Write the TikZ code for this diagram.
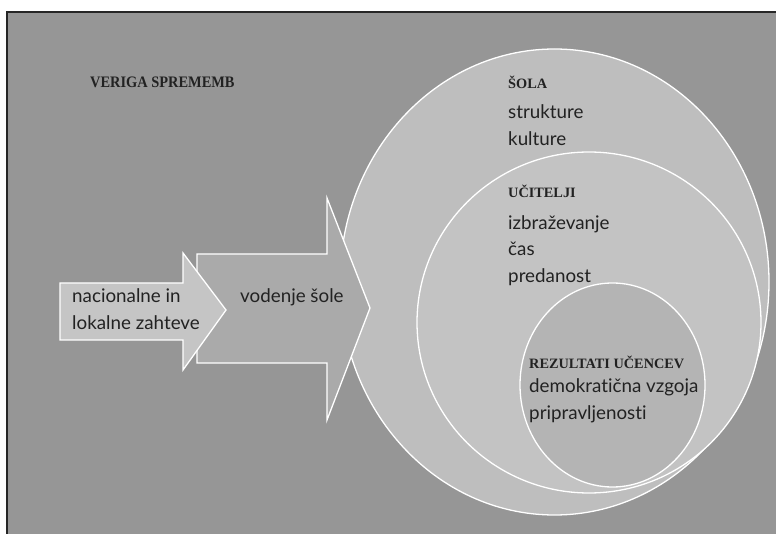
\documentclass[tikz,border=0pt]{standalone}
\usepackage{fontspec}
\setmainfont{Lato}[Ligatures=NoCommon]
\newfontfamily\capsfont{Liberation Serif}
\newfontfamily\titlecapsfont{Liberation Serif}[FakeStretch=0.9]
\usetikzlibrary{shapes.geometric}
\definecolor{bggray}{HTML}{969696}
\definecolor{outerfill}{HTML}{BEBEBE}
\definecolor{midfill}{HTML}{C3C3C3}
\definecolor{innerfill}{HTML}{B4B4B4}
\definecolor{arrowlight}{HTML}{C5C5C5}
\definecolor{arrowdark}{HTML}{AAAAAA}
\definecolor{inkdark}{HTML}{222222}
\tikzset{
  ring/.style={ellipse, draw=white, line width=1.3pt, inner sep=0pt, outer sep=0pt},
  blockarrow/.style={draw=white, line width=1.3pt, line join=miter},
  head/.style={font=\capsfont\bfseries\fontsize{14.3}{16}\selectfont, text=inkdark, anchor=base west, inner sep=0pt},
  title/.style={font=\titlecapsfont\bfseries\fontsize{16}{18}\selectfont, text=inkdark, anchor=base west, inner sep=0pt},
  item/.style={font=\fontsize{18.8}{22}\selectfont, text=inkdark, anchor=base west, inner sep=0pt},
}
\begin{document}
\begin{tikzpicture}[x=1pt, y=-1pt]
\useasboundingbox (0,0) rectangle (776,534);
% background panel
\fill[bggray] (7,12) rectangle (776,534);
\draw[line width=1.3pt, black!85] (7,534) -- (7,12) -- (776,12);
% nested ellipses
\node[ring, fill=outerfill, minimum width=429pt, minimum height=466pt] (sola) at (554.5,282) {};
\node[ring, fill=midfill, minimum width=344pt, minimum height=341pt] (ucitelji) at (589,322.5) {};
\node[ring, fill=innerfill, minimum width=185pt, minimum height=204pt] (rezultati) at (612.5,385) {};
% block arrows
\filldraw[blockarrow, fill=arrowdark] (197,254) -- (327,254) -- (327,198) -- (370,308) -- (327,420) -- (327,363) -- (197,363) -- cycle;
\filldraw[blockarrow, fill=arrowlight] (60,283) -- (183,283) -- (183,253) -- (226,310) -- (183,370) -- (183,340) -- (60,340) -- cycle;
% texts
\node[title] (t0) at (90,88) {VERIGA SPREMEMB};
\node[head] (t1) at (508,89) {ŠOLA};
\node[item] (t2) at (508,119) {strukture};
\node[item] (t3) at (508,146) {kulture};
\node[head] (t4) at (508,198) {UČITELJI};
\node[item] (t5) at (508,230) {izbraževanje};
\node[item] (t6) at (508,256) {čas};
\node[item] (t7) at (508,283) {predanost};
\node[head] (t8) at (529,368) {REZULTATI UČENCEV};
\node[item] (t9) at (529,392) {demokratična vzgoja};
\node[item] (t10) at (529,419) {pripravljenosti};
\node[item] (a1) at (72,303) {nacionalne in};
\node[item] (a2) at (72,330) {lokalne zahteve};
\node[item] (a3) at (240,303) {vodenje šole};
\end{tikzpicture}
\end{document}
